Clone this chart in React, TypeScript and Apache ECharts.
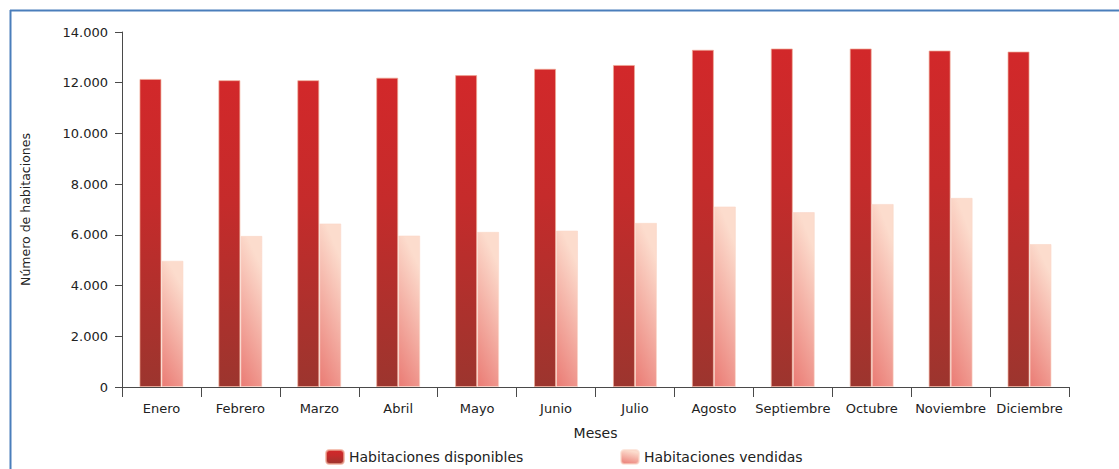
import React, { useEffect, useRef } from "react";
import * as echarts from "echarts";

const months = ["Enero", "Febrero", "Marzo", "Abril", "Mayo", "Junio", "Julio", "Agosto", "Septiembre", "Octubre", "Noviembre", "Diciembre"];
const disponibles = [12150, 12100, 12100, 12200, 12300, 12550, 12700, 13300, 13350, 13350, 13270, 13230];
const vendidas = [4980, 5960, 6450, 5975, 6120, 6170, 6475, 7120, 6900, 7220, 7460, 5640];
const seriesNames = ["Habitaciones disponibles", "Habitaciones vendidas"];

const FONT = "DejaVu Sans";

function fmt(v: number): string {
  return String(Math.round(v)).replace(/\B(?=(\d{3})+(?!\d))/g, ".");
}

export default function App() {
  const ref = useRef<HTMLDivElement>(null);
  useEffect(() => {
    if (!ref.current) return;
    const chart = echarts.init(ref.current, undefined, { renderer: "svg" });
    const darkGrad = new echarts.graphic.LinearGradient(0, 0, 0, 1, [
      { offset: 0, color: "#d2282a" },
      { offset: 0.4, color: "#c52b2b" },
      { offset: 1, color: "#9c352e" },
    ]);
    const lightGrad = new echarts.graphic.LinearGradient(0.3, 0, 0, 1, [
      { offset: 0, color: "#fcdccd" },
      { offset: 1, color: "#ea7b74" },
    ]);
    const legendBase = {
      top: 449,
      padding: 0,
      itemWidth: 18,
      itemHeight: 14,
      textStyle: { fontFamily: FONT, fontSize: 14, color: "#222" },
    };
    chart.setOption({
      animation: false,
      backgroundColor: "#ffffff",
      grid: { left: 122, right: 50, top: 32, bottom: 82, containLabel: false },
      legend: [
        { ...legendBase, data: [seriesNames[0]], left: 325 },
        { ...legendBase, data: [seriesNames[1]], left: 620 },
      ],
      xAxis: {
        type: "category",
        data: months,
        name: "Meses",
        nameLocation: "middle",
        nameGap: 39,
        nameTextStyle: { fontFamily: FONT, fontSize: 14, color: "#222" },
        axisLine: { lineStyle: { color: "#4a4a4a", width: 1 } },
        axisTick: { show: true, length: 10, interval: 0, alignWithLabel: false, lineStyle: { color: "#4a4a4a" } },
        axisLabel: { interval: 0, margin: 15, fontFamily: FONT, fontSize: 13, color: "#222" },
        splitLine: { show: false },
      },
      yAxis: {
        type: "value",
        min: 0,
        max: 14000,
        interval: 2000,
        name: "Número de habitaciones",
        nameLocation: "middle",
        nameGap: 90,
        nameTextStyle: { fontFamily: FONT, fontSize: 12.5, color: "#222" },
        axisLine: { show: true, lineStyle: { color: "#4a4a4a", width: 1 } },
        axisTick: { show: true, length: 7, lineStyle: { color: "#4a4a4a" } },
        axisLabel: { margin: 14, fontFamily: FONT, fontSize: 13, color: "#222", formatter: (v: number) => fmt(v) },
        splitLine: { show: false },
      },
      series: [
        {
          name: seriesNames[0],
          type: "bar",
          data: disponibles,
          barWidth: 22,
          barGap: "0%",
          itemStyle: { color: darkGrad, borderColor: "rgba(240,170,150,0.7)", borderWidth: 1 },
        },
        {
          name: seriesNames[1],
          type: "bar",
          data: vendidas,
          barWidth: 22,
          barGap: "0%",
          itemStyle: { color: lightGrad, borderColor: "rgba(250,215,200,0.6)", borderWidth: 1 },
        },
      ],
      graphic: [
        { type: "line", shape: { x1: 10.5, y1: 10, x2: 10.5, y2: 469 }, style: { stroke: "#4a7ebb", lineWidth: 2 } },
        { type: "line", shape: { x1: 10, y1: 10.5, x2: 1119, y2: 10.5 }, style: { stroke: "#4a7ebb", lineWidth: 2 } },
      ],
    });
    return () => chart.dispose();
  }, []);
  return <div ref={ref} style={{ position: "absolute", left: 0, top: 0, width: 1119, height: 469 }} />;
}
